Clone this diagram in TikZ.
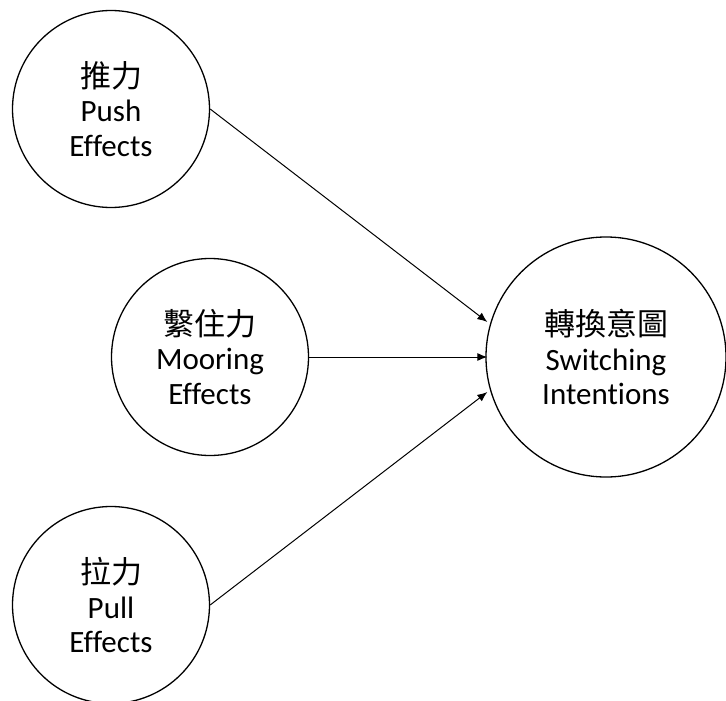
\documentclass[tikz,border=0pt]{standalone}
\usepackage{fontspec}
\setmainfont{Carlito}[Ligatures=NoCommon]
\newfontfamily\cjk{Noto Sans CJK TC}
\usetikzlibrary{arrows.meta,calc}
\tikzset{
  factor/.style={circle, draw, line width=1.3pt, minimum size=197pt, inner sep=0pt,
    align=center, font=\fontsize{31}{34.5}\selectfont},
  target/.style={factor, minimum size=240pt},
  link/.style={line width=1pt, -{Latex[length=10pt,width=8pt]}}
}
\begin{document}
\begin{tikzpicture}[x=1pt, y=-1pt]
\useasboundingbox (0,0) rectangle (726,701);
\node[factor] (push) at (111,109) {{\cjk 推力}\\Push\\Effects};
\node[factor] (moor) at (210,357) {{\cjk 繫住力}\\Mooring\\Effects};
\node[factor] (pull) at (111,605) {{\cjk 拉力}\\Pull\\Effects};
\node[target] (sw) at (606,357) {{\cjk 轉換意圖}\\Switching\\Intentions};
\coordinate (inA) at ($(sw.west)+(2,-35)$);
\coordinate (inB) at ($(sw.west)+(2,0)$);
\coordinate (inC) at ($(sw.west)+(2,35)$);
\draw[link] (push.east) -- (inA);
\draw[link] (moor.east) -- (inB);
\draw[link] (pull.east) -- (inC);
\end{tikzpicture}
\end{document}
